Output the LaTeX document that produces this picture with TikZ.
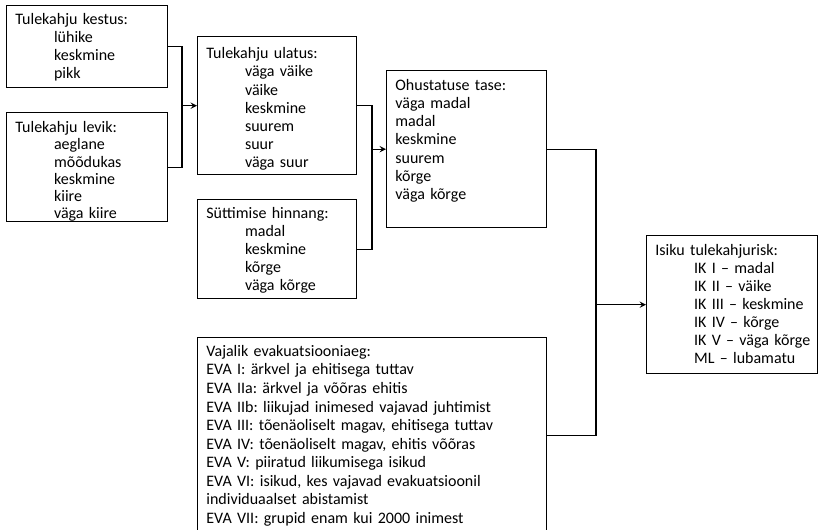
\documentclass[tikz,border=0pt]{standalone}
\usepackage{fontspec}
\setmainfont{Carlito}
\usetikzlibrary{arrows,calc}

\newcommand{\ind}{\hspace*{29pt}}
\frenchspacing

\begin{document}
\begin{tikzpicture}[
    x=0.75pt, y=-0.75pt,
    box/.style={rectangle, draw=black, line width=1.1pt, anchor=north west,
                align=left, inner xsep=6.5pt, inner ysep=0pt, text height=14pt,
                font=\fontsize{12pt}{13.5pt}\selectfont},
    link/.style={draw=black, line width=1.1pt},
    arrow/.style={->, >=stealth}
]
\useasboundingbox (0,0) rectangle (820,529);

% Fire parameters
\node[box, text width=107.75pt, text depth=47.5pt] (kestus) at (6,5)
    {Tulekahju kestus:\\ \ind lühike\\ \ind keskmine\\ \ind pikk};
\node[box, text width=107.75pt, text height=15pt, text depth=66.75pt,
      font=\fontsize{12pt}{12.9pt}\selectfont] (levik) at (6,112)
    {Tulekahju levik:\\ \ind aeglane\\ \ind mõõdukas\\ \ind keskmine\\ \ind kiire\\ \ind väga kiire};

\node[box, text width=106.25pt, text height=16.5pt, text depth=87pt,
      font=\fontsize{12pt}{13.6pt}\selectfont] (ulatus) at (197,36)
    {Tulekahju ulatus:\\ \ind väga väike\\ \ind väike\\ \ind keskmine\\ \ind suurem\\ \ind suur\\ \ind väga suur};
\node[box, text width=106.25pt, text depth=60.25pt] (sutt) at (197,199)
    {Süttimise hinnang:\\ \ind madal\\ \ind keskmine\\ \ind kõrge\\ \ind väga kõrge};

% Hazard level
\node[box, text width=107pt, text height=14.5pt, text depth=103.25pt,
      font=\fontsize{12pt}{13.7pt}\selectfont] (ohus) at (386,70)
    {Ohustatuse tase:\\ väga madal\\ madal\\ keskmine\\ suurem\\ kõrge\\ väga kõrge};

% Evacuation time (runs off the bottom edge)
\node[box, text width=248.75pt, text depth=133pt,
      font=\fontsize{12pt}{13.9pt}\selectfont] (eva) at (197,337)
    {Vajalik evakuatsiooniaeg:\\
     EVA I: ärkvel ja ehitisega tuttav\\
     EVA IIa: ärkvel ja võõras ehitis\\
     EVA IIb: liikujad inimesed vajavad juhtimist\\
     EVA III: tõenäoliselt magav, ehitisega tuttav\\
     EVA IV: tõenäoliselt magav, ehitis võõras\\
     EVA V: piiratud liikumisega isikud\\
     EVA VI: isikud, kes vajavad evakuatsioonil\\
     individuaalset abistamist\\
     EVA VII: grupid enam kui 2000 inimest};

% Result
\node[box, text width=115.25pt, text height=15pt, text depth=88.5pt] (isiku) at (646,235)
    {Isiku tulekahjurisk:\\ \ind\mbox{IK I -- madal}\\ \ind\mbox{IK II -- väike}\\ \ind\mbox{IK III -- keskmine}\\
     \ind\mbox{IK IV -- kõrge}\\ \ind\mbox{IK V -- väga kõrge}\\ \ind\mbox{ML -- lubamatu}};

% Connectors
\coordinate (j1) at ($(ulatus.west)+(-15,0)$);
\coordinate (j2) at ($(ohus.west)+(-14,0)$);
\coordinate (j3) at ($(isiku.west)+(-50,0)$);

\draw[link] (kestus.east) -| (j1) |- (levik.east);
\draw[link, arrow] (j1) -- (ulatus.west);

\draw[link] (ulatus.east) -| (j2) |- (sutt.east);
\draw[link, arrow] (j2) -- (ohus.west);

\draw[link] (ohus.east) -| (j3) |- (eva.east);
\draw[link, arrow] (j3) -- (isiku.west);

\end{tikzpicture}
\end{document}
